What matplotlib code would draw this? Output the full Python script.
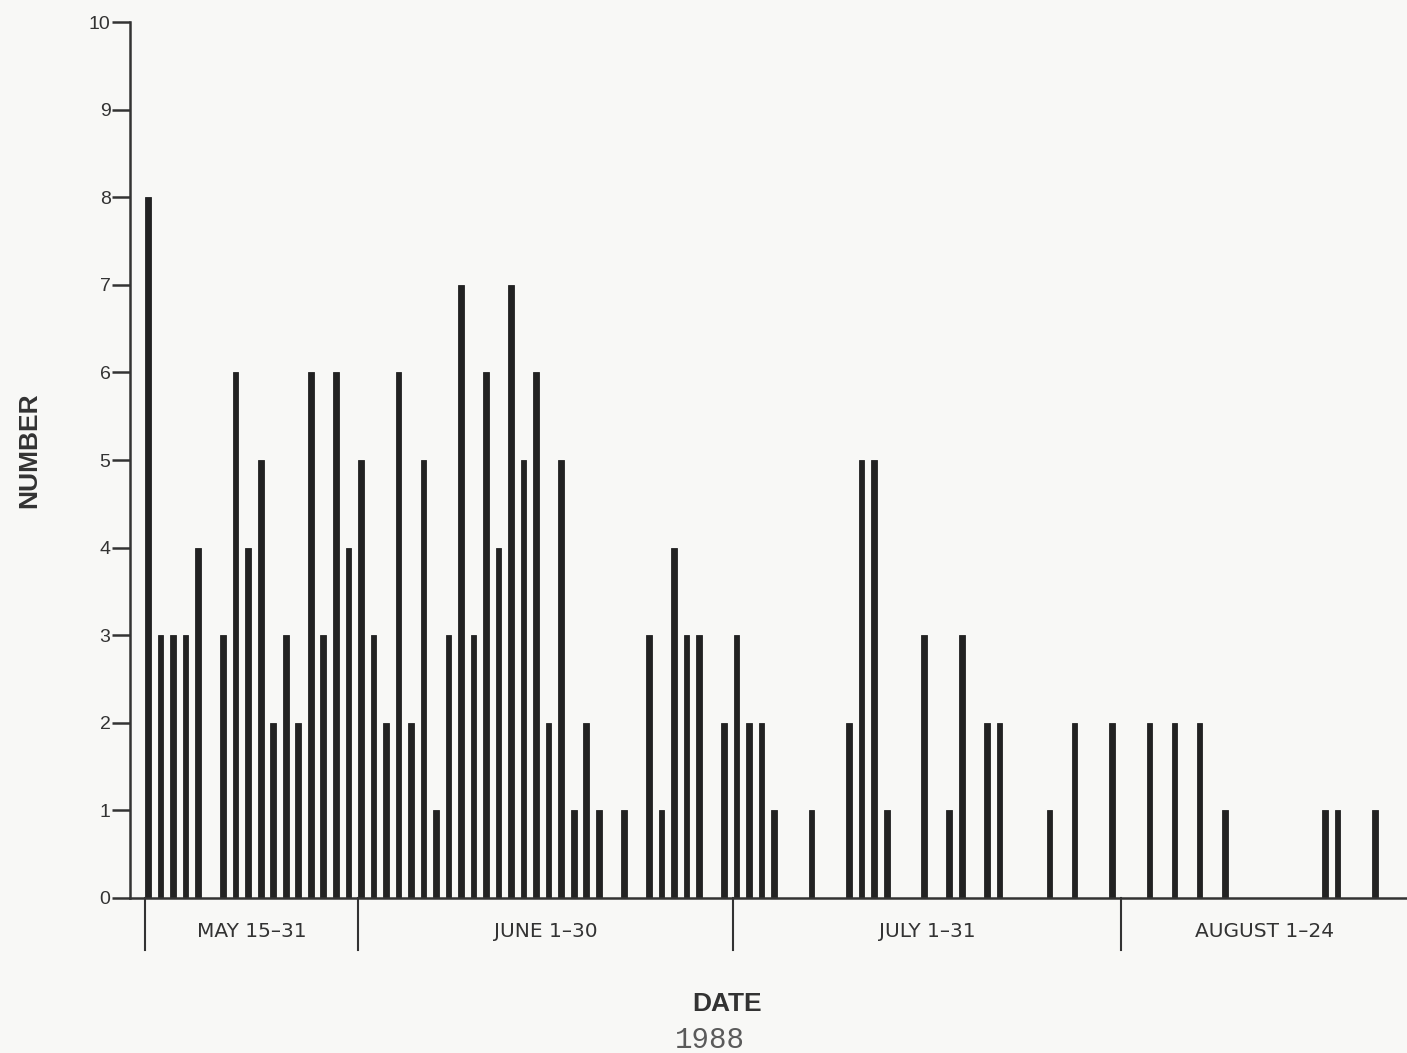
import numpy as np
from matplotlib import pyplot as plt
from matplotlib import transforms

# daily counts (days without a bar are zero)
may_days = [15, 16, 17, 18, 19, 21, 22, 23, 24, 25, 26, 27, 28, 29, 30, 31]
may_counts = [8, 3, 3, 3, 4, 3, 6, 4, 5, 2, 3, 2, 6, 3, 6, 4]
june_days = [1, 2, 3, 4, 5, 6, 7, 8, 9, 10, 11, 12, 13, 14, 15, 16, 17, 18, 19, 20, 22, 24, 25, 26, 27, 28, 30]
june_counts = [5, 3, 2, 6, 2, 5, 1, 3, 7, 3, 6, 4, 7, 5, 6, 2, 5, 1, 2, 1, 1, 3, 1, 4, 3, 3, 2]
july_days = [1, 2, 3, 4, 7, 10, 11, 12, 13, 16, 18, 19, 21, 22, 26, 28, 31]
july_counts = [3, 2, 2, 1, 1, 2, 5, 5, 1, 3, 1, 3, 2, 2, 1, 2, 2]
aug_days = [3, 5, 7, 9, 17, 18, 21]
aug_counts = [2, 2, 2, 1, 1, 1, 1]

group_labels = ['MAY 15\u201331', 'JUNE 1\u201330', 'JULY 1\u201331', 'AUGUST 1\u201324']
group_starts = ['1988-05-15', '1988-06-01', '1988-07-01', '1988-08-01']

start = np.datetime64('1988-05-15')


def offsets(month, days):
    dates = np.array(['1988-%s-%02d' % (month, d) for d in days], dtype='datetime64[D]')
    return (dates - start).astype(int)


x = np.concatenate([offsets('05', may_days), offsets('06', june_days),
                    offsets('07', july_days), offsets('08', aug_days)])
y = np.array(may_counts + june_counts + july_counts + aug_counts)

fig = plt.figure(figsize=(14.07, 10.53), dpi=100, facecolor='#f8f8f6')
ax = fig.add_axes([0.0924, 0.1472, 0.9076, 0.8319])
ax.set_facecolor('#f8f8f6')

ax.bar(x, y, width=0.45, color='#222222', edgecolor='#222222', linewidth=0.6)

ax.set_xlim(-1.44, 100.56)
ax.set_ylim(0, 10)
ax.set_yticks(range(11))
ax.set_xticks([])
for s in ['top', 'right']:
    ax.spines[s].set_visible(False)
for s in ['left', 'bottom']:
    ax.spines[s].set_linewidth(1.8)
    ax.spines[s].set_color('#333333')
ax.tick_params(axis='y', length=13, width=1.8, color='#333333', pad=1,
               labelsize=14, labelcolor='#333333')
for t in ax.get_yticklabels():
    t.set_fontfamily('Liberation Sans')

# group dividers and labels under the axis
trans = transforms.blended_transform_factory(ax.transData, ax.transAxes)
edges = [(np.datetime64(d) - start).astype(int) - 0.25 for d in group_starts] + [100.56]
for e in edges[:-1]:
    ax.plot([e, e], [0, -0.059], transform=trans, color='#333333', lw=1.5, clip_on=False)
for i, lab in enumerate(group_labels):
    ax.text((edges[i] + edges[i + 1]) / 2, -0.038, lab, transform=trans,
            ha='center', va='center', fontsize=14.5, color='#333333',
            family='DejaVu Sans')

fig.text(0.5167, 0.047, 'DATE', ha='center', va='center', fontsize=19,
         fontweight='bold', color='#333333', family='Liberation Sans')
fig.text(0.5046, 0.012, '1988', ha='center', va='center', fontsize=21,
         color='#5a5a5a', family='Liberation Mono')
fig.text(0.021, 0.5726, 'NUMBER', rotation=90, ha='center', va='center', fontsize=19,
         fontweight='bold', color='#333333', family='Liberation Sans')

fig.savefig('out.png', dpi=100, facecolor=fig.get_facecolor())
